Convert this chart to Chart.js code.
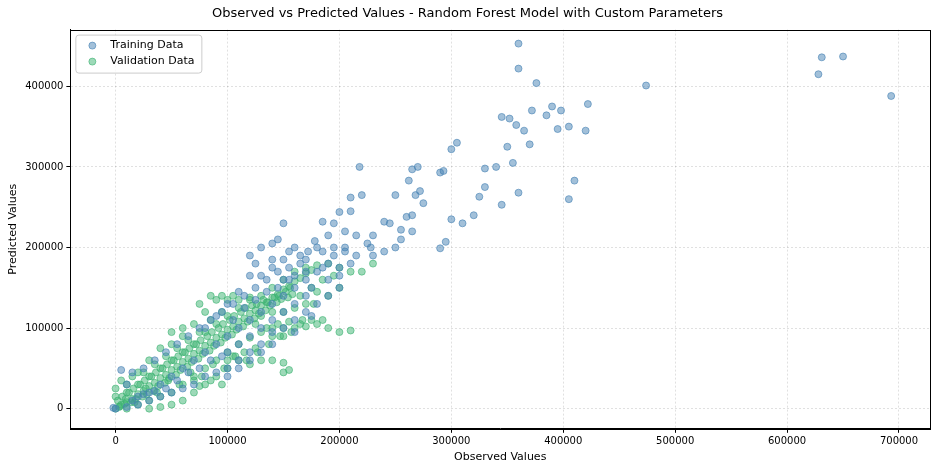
<!DOCTYPE html>
<html><head><meta charset="utf-8">
<script src="https://cdn.jsdelivr.net/npm/chart.js@4"></script>
<style>html,body{margin:0;background:#fff}#w{width:936px;height:468px}</style></head>
<body><div id="w"><canvas id="c"></canvas></div>
<script>
// values in thousands (k)
const trainX=[360,360,376,474,628,631,650,693,352,345,358,365,372,390,398,385,422,405,420,395,350,370,355,340,330,305,300,293,290,360,345,330,325,405,410,300,310,295,290,320,270,265,262,268,265,260,255,250,240,230,228,265,255,245,240,272,275,250,210,220,218,210,200,195,185,205,215,230,225,190,178,172,180,160,155,150,145,140,130,120,125,140,165,195,205,215,200,185,170,160,150,175,190,200,180,170,160,150,140,130,120,110,100,90,80,70,60,50,40,30,20,10,0,-2,5,10,15,25,35,45,55,65,75,85,95,105,115,125,135,145,155,165,100,110,120,130,140,150,160,170,180,190,90,80,70,60,50,40,30,20,100,110,120,130,140,150,160,170,105,115,125,135,145,155,85,95,75,65,55,45,35,25,15,120,130,110,100,140,160,175,190,200,210,205,195,185,170,130,120,140,150,110,100,90,80];
const trainY=[453,422,404,401,415,436,437,388,360,362,352,345,370,375,370,364,378,350,345,347,325,328,305,300,298,330,322,295,293,268,253,275,263,260,283,235,230,207,199,240,300,297,283,265,240,238,210,200,195,190,200,220,222,230,232,270,255,265,262,265,300,245,244,230,232,220,215,215,205,215,208,195,200,200,195,230,210,205,200,190,180,185,190,190,195,190,175,175,170,165,160,150,160,165,130,120,110,100,95,80,70,60,50,45,40,30,25,20,15,10,5,2,0,1,48,30,45,50,60,70,80,90,100,110,120,130,140,150,160,170,175,180,90,100,110,120,130,140,150,160,170,180,80,70,60,50,40,30,20,15,70,80,90,100,110,120,130,140,110,125,135,145,150,160,60,65,50,45,35,25,22,18,10,60,70,50,40,80,95,115,140,150,180,200,200,195,185,165,165,175,185,145,130,115,100];
const valX=[0,5,10,15,20,25,30,35,40,45,50,55,60,65,70,75,80,85,90,95,100,105,110,115,120,125,130,135,140,145,150,155,160,165,170,175,180,10,20,30,40,50,60,70,80,90,100,110,120,130,140,150,160,170,0,0,5,15,25,35,45,55,65,75,85,95,100,110,120,90,80,70,60,50,10,20,30,40,50,60,70,80,90,100,110,120,130,140,150,160,170,180,190,200,210,185,175,165,155,145,135,125,150,140,100,90,80,70,60,50,40,30,100,110,120,130,140,150,155,150,125,115,105,95,85,75,70,190,200,210,220,230,195,185,175,165,180,170,160,150,140,130,190,200,75,85,95,105,60,50,40,30,20,10,
2,4,6,8,12,14,16,18,22,24,26,28,32,34,36,38,42,44,46,48,52,54,56,58,62,64,66,68,72,74,76,78,82,84,86,88,92,94,96,98,102,104,106,108,112,114,116,118,122,124,126,128,132,134,136,138,142,144,146,148,152,154,156,158,3,9,17,27,37,47,57,67,77,87,97,107,117,127,137,147,157,167,177];
const valY=[0,5,8,12,18,22,28,32,38,42,48,52,58,62,68,72,78,82,88,92,98,102,108,112,118,122,128,132,138,142,148,152,158,162,168,172,178,20,30,40,50,60,70,80,95,105,115,125,135,140,150,160,170,175,25,15,35,40,45,55,65,75,85,95,110,120,135,135,138,135,120,105,90,80,0,5,10,15,20,30,40,50,60,70,80,88,95,100,100,100,102,105,100,95,97,110,110,105,108,105,100,105,90,90,50,40,30,20,10,5,2,0,60,60,55,60,60,57,48,45,75,70,65,30,35,28,35,180,175,170,170,180,165,160,150,140,145,130,125,120,120,115,140,150,130,140,140,140,100,95,75,60,45,30,
10,3,15,6,20,8,25,12,30,15,35,18,40,22,45,28,50,32,55,38,60,42,65,48,70,52,75,58,80,62,85,68,90,72,95,78,100,82,105,88,110,92,115,98,120,102,125,108,128,112,130,118,135,122,132,128,138,132,140,136,145,138,150,142,2,12,8,25,20,35,30,45,40,55,50,65,60,70,80,90,95,110,130];
const xTicks=[0,100000,200000,300000,400000,500000,600000,700000];
const yTicks=[0,100000,200000,300000,400000];
const pts=(xs,ys)=>xs.map((x,i)=>({x:x*1000,y:ys[i]*1000}));
const frame={id:'fr',afterDraw(ch){const c=ch.ctx,a=ch.chartArea;c.save();c.strokeStyle='#000';c.lineWidth=1;
c.strokeRect(Math.round(a.left)+0.5,Math.round(a.top)+0.5,Math.round(a.right-a.left),Math.round(a.bottom-a.top));
c.fillStyle='rgba(255,255,255,0.8)';c.strokeStyle='#ccc';
c.beginPath();c.roundRect(a.left+5.5,a.top+5.5,126,38,3);c.fill();c.stroke();
c.font='11px "DejaVu Sans"';c.textBaseline='middle';
[['Training Data','rgba(70,130,180,0.5)','rgba(70,130,180,0.6)'],['Validation Data','rgba(60,179,113,0.5)','rgba(60,179,113,0.6)']].forEach((l,i)=>{
const y=a.top+16+i*16;c.fillStyle=l[1];c.strokeStyle=l[2];c.beginPath();c.arc(a.left+22,y,3.5,0,7);c.fill();c.stroke();
c.fillStyle='#000';c.fillText(l[0],a.left+40,y);});c.restore();}};
new Chart(document.getElementById('c'),{type:'scatter',
data:{datasets:[
{label:'Training Data',data:pts(trainX,trainY),backgroundColor:'rgba(70,130,180,0.5)',borderColor:'rgba(70,130,180,0.6)',pointRadius:3.5,borderWidth:1},
{label:'Validation Data',data:pts(valX,valY),backgroundColor:'rgba(60,179,113,0.5)',borderColor:'rgba(60,179,113,0.6)',pointRadius:3.5,borderWidth:1}]},
options:{responsive:true,maintainAspectRatio:false,animation:false,
layout:{padding:{left:5,right:6,top:0,bottom:4}},
plugins:{legend:{display:false},tooltip:{enabled:false},
title:{display:true,text:'Observed vs Predicted Values - Random Forest Model with Custom Parameters',font:{family:'DejaVu Sans',size:13,weight:'normal'},color:'#000',padding:{top:6,bottom:8}}},
scales:{
x:{min:-40400,max:727700,afterBuildTicks:s=>{s.ticks=xTicks.map(v=>({value:v}))},
ticks:{color:'#000',font:{family:'DejaVu Sans',size:10},maxRotation:0,callback:v=>String(v)},
grid:{color:'rgba(0,0,0,0.12)',tickColor:'#000',tickLength:4},border:{color:'#000',dash:[2,2]},
title:{display:true,text:'Observed Values',color:'#000',font:{family:'DejaVu Sans',size:11},padding:0}},
y:{min:-25000,max:470400,afterBuildTicks:s=>{s.ticks=yTicks.map(v=>({value:v}))},
ticks:{color:'#000',font:{family:'DejaVu Sans',size:10},callback:v=>String(v)},
grid:{color:'rgba(0,0,0,0.12)',tickColor:'#000',tickLength:4},border:{color:'#000',dash:[2,2]},
title:{display:true,text:'Predicted Values',color:'#000',font:{family:'DejaVu Sans',size:11},padding:2}}}},
plugins:[frame]});
</script></body></html>
